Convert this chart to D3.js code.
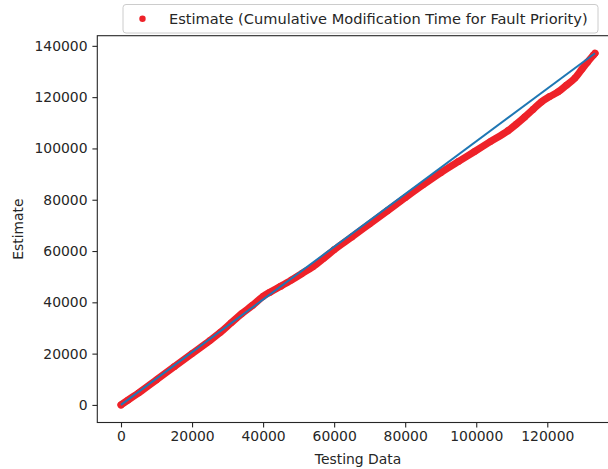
<!DOCTYPE html>
<html>
<head>
<meta charset="utf-8">
<script src="https://cdn.jsdelivr.net/npm/d3@7"></script>
<style>
  html, body { margin: 0; padding: 0; background: #fff; }
  svg { display: block; font-family: "DejaVu Sans", sans-serif; }
</style>
</head>
<body>
<div id="chart"></div>
<script>
// testing data (x) vs estimate (y)
const estX = [0, 2000, 5000, 10000, 15000, 20000, 25000, 28000, 31000, 34000,
  37000, 40000, 42000, 45000, 48000, 51000, 54000, 57000, 60000, 65000,
  70000, 75000, 80000, 85000, 90100, 95000, 99500, 104000, 108950, 111300,
  113650, 116000, 118360, 120700, 123080, 125400, 127780, 129660, 131300,
  132960, 133430];
const estY = [0, 1900, 4700, 9800, 14900, 20000, 25100, 28300, 32000, 35600,
  38800, 42300, 44000, 46300, 48700, 51300, 53900, 57100, 60500, 65500,
  70600, 75700, 80800, 85800, 90650, 94930, 98760, 102680, 106900, 109480,
  112250, 115210, 118140, 120240, 122070, 124670, 127420, 130750, 133640,
  136340, 137100];

// reference line
const lineX = [0, 133430];
const lineY = [0, 137100];

const xTicks = [0, 20000, 40000, 60000, 80000, 100000, 120000];
const yTicks = [0, 20000, 40000, 60000, 80000, 100000, 120000, 140000];

const legendLabel = "Estimate (Cumulative Modification Time for Fault Priority)";

const W = 608, H = 469;
const plotL = 97.3, plotR = 618.7, plotT = 35.7, plotB = 422.5;
const fontSize = "13.9px";
const ink = "#262626";
const red = "#ee2229";

const svg = d3.select("#chart").append("svg")
  .attr("width", W)
  .attr("height", H);

// matplotlib style 5% margins
const xExt = d3.extent(estX.concat(lineX));
const yExt = d3.extent(estY.concat(lineY));
const xPad = (xExt[1] - xExt[0]) * 0.05;
const yPad = (yExt[1] - yExt[0]) * 0.05;

const x = d3.scaleLinear()
  .domain([xExt[0] - xPad, xExt[1] + xPad])
  .range([plotL, plotR]);
const y = d3.scaleLinear()
  .domain([yExt[0] - yPad, yExt[1] + yPad])
  .range([plotB, plotT]);

const est = estX.map((d, i) => ({x: d, y: estY[i]}));
const ref = lineX.map((d, i) => ({x: d, y: lineY[i]}));

const line = d3.line().x(d => x(d.x)).y(d => y(d.y));

// dense scatter band
svg.append("path")
  .datum(est)
  .attr("fill", "none")
  .attr("stroke", red)
  .attr("stroke-width", 7.2)
  .attr("stroke-linecap", "round")
  .attr("stroke-linejoin", "round")
  .attr("d", line.curve(d3.curveMonotoneX));

svg.selectAll(".dot")
  .data(est)
  .enter()
  .append("circle")
  .attr("class", "dot")
  .attr("cx", d => x(d.x))
  .attr("cy", d => y(d.y))
  .attr("r", 3.4)
  .attr("fill", red);

svg.append("path")
  .datum(ref)
  .attr("fill", "none")
  .attr("stroke", "#1f77b4")
  .attr("stroke-width", 2)
  .attr("d", d3.line().x(d => x(d.x)).y(d => y(d.y)));

// axes
const xAxis = svg.append("g")
  .attr("transform", `translate(0,${plotB})`)
  .call(d3.axisBottom(x).tickValues(xTicks).tickFormat(d3.format("d"))
    .tickSize(4.9).tickPadding(3.5).tickSizeOuter(0));
const yAxis = svg.append("g")
  .attr("transform", `translate(${plotL},0)`)
  .call(d3.axisLeft(y).tickValues(yTicks).tickFormat(d3.format("d"))
    .tickSize(4.9).tickPadding(4.9).tickSizeOuter(0));

[xAxis, yAxis].forEach(a => {
  a.select(".domain").remove();
  a.selectAll("line").attr("stroke", ink).attr("stroke-width", 1.1);
  a.selectAll("text")
    .attr("fill", ink)
    .style("font-size", fontSize)
    .style("font-family", "DejaVu Sans");
});

// spines
svg.append("rect")
  .attr("x", plotL)
  .attr("y", plotT)
  .attr("width", plotR - plotL)
  .attr("height", plotB - plotT)
  .attr("fill", "none")
  .attr("stroke", ink)
  .attr("stroke-width", 1.1);

// axis labels
svg.append("text")
  .attr("x", (plotL + plotR) / 2)
  .attr("y", 464)
  .attr("text-anchor", "middle")
  .attr("fill", ink)
  .style("font-size", fontSize)
  .text("Testing Data");

svg.append("text")
  .attr("transform", `translate(23,${(plotT + plotB) / 2}) rotate(-90)`)
  .attr("text-anchor", "middle")
  .attr("fill", ink)
  .style("font-size", fontSize)
  .text("Estimate");

// legend
const lg = svg.append("g");
lg.append("rect")
  .attr("x", 123)
  .attr("y", 4.5)
  .attr("width", 475)
  .attr("height", 28.5)
  .attr("rx", 3)
  .attr("fill", "#fff")
  .attr("fill-opacity", 0.8)
  .attr("stroke", "#cccccc")
  .attr("stroke-width", 1);
lg.append("circle")
  .attr("cx", 142.5)
  .attr("cy", 18.8)
  .attr("r", 3.2)
  .attr("fill", red);
lg.append("text")
  .attr("x", 169)
  .attr("y", 24)
  .attr("fill", ink)
  .style("font-size", "14.6px")
  .text(legendLabel);
</script>
</body>
</html>
